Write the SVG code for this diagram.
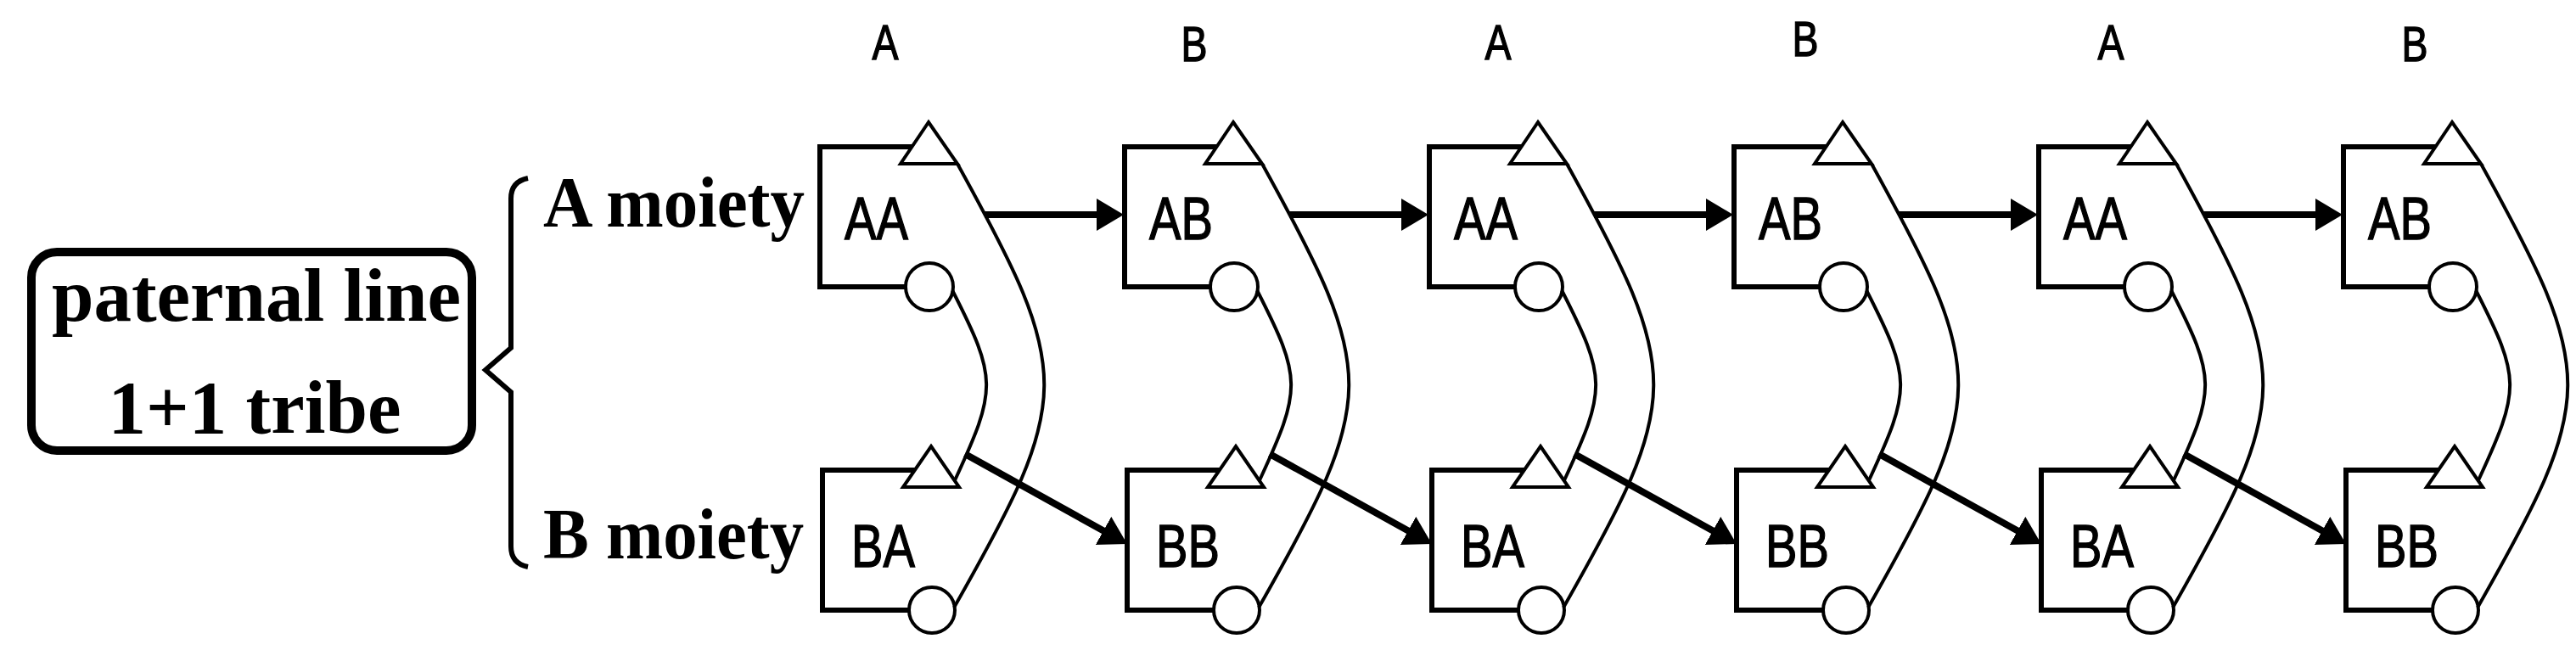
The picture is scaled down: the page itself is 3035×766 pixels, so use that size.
<svg xmlns="http://www.w3.org/2000/svg" width="3035" height="766" viewBox="0 0 3035 766">
<style>
.bg{fill:#fff}
.box{fill:none;stroke:#000;stroke-width:6}
.sym{fill:#fff;stroke:#000;stroke-width:4}
.arc{fill:none;stroke:#000;stroke-width:4}
.arr{fill:none;stroke:#000;stroke-width:8;marker-end:url(#ah)}
.nt{font-family:"Liberation Sans",Arial,sans-serif;font-size:70px;fill:#000;stroke:#000;stroke-width:1.4}
.ct{font-family:"Liberation Sans",Arial,sans-serif;font-size:58px;fill:#000;stroke:#000;stroke-width:1.4;text-anchor:middle}
.tt{font-family:"Liberation Serif","Times New Roman",serif;font-weight:bold;fill:#000}
.brace{fill:none;stroke:#000;stroke-width:6;stroke-linejoin:miter}
.pbox{fill:#fff;stroke:#000;stroke-width:10}
</style>
<defs>
<marker id="ah" markerUnits="userSpaceOnUse" markerWidth="34" markerHeight="40" refX="12" refY="19" orient="auto">
<path d="M0,0 L32,19 L0,38 z" fill="#000"/>
</marker>
</defs>
<rect class="bg" x="0" y="0" width="3035" height="766"/>

<g id="paternal">
<rect class="pbox" x="37" y="297" width="519" height="234" rx="30"/>
<text class="tt" x="302" y="378" font-size="89" text-anchor="middle">paternal line</text>
<text class="tt" x="300" y="510" font-size="89" text-anchor="middle">1+1 tribe</text>
</g>
<path class="brace" d="M622,210 Q602,214 602,234 V410 L572,436 L602,462 V644 Q602,664 622,668"/>
<g id="moiety-labels">
<text class="tt" x="640" y="267" font-size="84" textLength="308" lengthAdjust="spacingAndGlyphs">A moiety</text>
<text class="tt" x="640" y="658" font-size="84" textLength="307" lengthAdjust="spacingAndGlyphs">B moiety</text>
</g>

<g id="column-labels">
<text class="ct" x="1043" y="70" textLength="31" lengthAdjust="spacingAndGlyphs">A</text>
<text class="ct" x="1407" y="72" textLength="31" lengthAdjust="spacingAndGlyphs">B</text>
<text class="ct" x="1765" y="70" textLength="31" lengthAdjust="spacingAndGlyphs">A</text>
<text class="ct" x="2127" y="66" textLength="31" lengthAdjust="spacingAndGlyphs">B</text>
<text class="ct" x="2487" y="70" textLength="31" lengthAdjust="spacingAndGlyphs">A</text>
<text class="ct" x="2845" y="72" textLength="31" lengthAdjust="spacingAndGlyphs">B</text>
</g>

<g id="node-AA-1" transform="translate(0,0)">
<path class="box" d="M1094,173 H966 V338 H1095"/>
<polygon class="sym" points="1094,144 1128,193 1061,193"/>
<circle class="sym" cx="1095" cy="338" r="28"/>
<text class="nt" x="995" y="282" textLength="75" lengthAdjust="spacingAndGlyphs">AA</text>
</g>
<g id="node-BA-1" transform="translate(0,0)">
<path class="box" d="M1097,554 H969 V719 H1098"/>
<polygon class="sym" points="1097,526 1130,574 1064,574"/>
<circle class="sym" cx="1098" cy="719" r="27"/>
<text class="nt" x="1003" y="668" textLength="75" lengthAdjust="spacingAndGlyphs">BA</text>
</g>

<g id="node-AB-2" transform="translate(359,0)">
<path class="box" d="M1094,173 H966 V338 H1095"/>
<polygon class="sym" points="1094,144 1128,193 1061,193"/>
<circle class="sym" cx="1095" cy="338" r="28"/>
<text class="nt" x="995" y="282" textLength="75" lengthAdjust="spacingAndGlyphs">AB</text>
</g>
<g id="node-BB-2" transform="translate(359,0)">
<path class="box" d="M1097,554 H969 V719 H1098"/>
<polygon class="sym" points="1097,526 1130,574 1064,574"/>
<circle class="sym" cx="1098" cy="719" r="27"/>
<text class="nt" x="1003" y="668" textLength="75" lengthAdjust="spacingAndGlyphs">BB</text>
</g>

<g id="node-AA-3" transform="translate(718,0)">
<path class="box" d="M1094,173 H966 V338 H1095"/>
<polygon class="sym" points="1094,144 1128,193 1061,193"/>
<circle class="sym" cx="1095" cy="338" r="28"/>
<text class="nt" x="995" y="282" textLength="75" lengthAdjust="spacingAndGlyphs">AA</text>
</g>
<g id="node-BA-3" transform="translate(718,0)">
<path class="box" d="M1097,554 H969 V719 H1098"/>
<polygon class="sym" points="1097,526 1130,574 1064,574"/>
<circle class="sym" cx="1098" cy="719" r="27"/>
<text class="nt" x="1003" y="668" textLength="75" lengthAdjust="spacingAndGlyphs">BA</text>
</g>

<g id="node-AB-4" transform="translate(1077,0)">
<path class="box" d="M1094,173 H966 V338 H1095"/>
<polygon class="sym" points="1094,144 1128,193 1061,193"/>
<circle class="sym" cx="1095" cy="338" r="28"/>
<text class="nt" x="995" y="282" textLength="75" lengthAdjust="spacingAndGlyphs">AB</text>
</g>
<g id="node-BB-4" transform="translate(1077,0)">
<path class="box" d="M1097,554 H969 V719 H1098"/>
<polygon class="sym" points="1097,526 1130,574 1064,574"/>
<circle class="sym" cx="1098" cy="719" r="27"/>
<text class="nt" x="1003" y="668" textLength="75" lengthAdjust="spacingAndGlyphs">BB</text>
</g>

<g id="node-AA-5" transform="translate(1436,0)">
<path class="box" d="M1094,173 H966 V338 H1095"/>
<polygon class="sym" points="1094,144 1128,193 1061,193"/>
<circle class="sym" cx="1095" cy="338" r="28"/>
<text class="nt" x="995" y="282" textLength="75" lengthAdjust="spacingAndGlyphs">AA</text>
</g>
<g id="node-BA-5" transform="translate(1436,0)">
<path class="box" d="M1097,554 H969 V719 H1098"/>
<polygon class="sym" points="1097,526 1130,574 1064,574"/>
<circle class="sym" cx="1098" cy="719" r="27"/>
<text class="nt" x="1003" y="668" textLength="75" lengthAdjust="spacingAndGlyphs">BA</text>
</g>

<g id="node-AB-6" transform="translate(1795,0)">
<path class="box" d="M1094,173 H966 V338 H1095"/>
<polygon class="sym" points="1094,144 1128,193 1061,193"/>
<circle class="sym" cx="1095" cy="338" r="28"/>
<text class="nt" x="995" y="282" textLength="75" lengthAdjust="spacingAndGlyphs">AB</text>
</g>
<g id="node-BB-6" transform="translate(1795,0)">
<path class="box" d="M1097,554 H969 V719 H1098"/>
<polygon class="sym" points="1097,526 1130,574 1064,574"/>
<circle class="sym" cx="1098" cy="719" r="27"/>
<text class="nt" x="1003" y="668" textLength="75" lengthAdjust="spacingAndGlyphs">BB</text>
</g>

<g id="connectors">
<g transform="translate(0,0)">
<path class="arc" d="M1128,193 C1265,441 1265,468 1124,716"/>
<path class="arc" d="M1122,342 C1175,446 1175,458 1125,566"/>
<path class="arr" d="M1160,253 H1304"/>
<path class="arr" d="M1137,535 L1310.5,631.3"/>
</g>
<g transform="translate(359,0)">
<path class="arc" d="M1128,193 C1265,441 1265,468 1124,716"/>
<path class="arc" d="M1122,342 C1175,446 1175,458 1125,566"/>
<path class="arr" d="M1160,253 H1304"/>
<path class="arr" d="M1137,535 L1310.5,631.3"/>
</g>
<g transform="translate(718,0)">
<path class="arc" d="M1128,193 C1265,441 1265,468 1124,716"/>
<path class="arc" d="M1122,342 C1175,446 1175,458 1125,566"/>
<path class="arr" d="M1160,253 H1304"/>
<path class="arr" d="M1137,535 L1310.5,631.3"/>
</g>
<g transform="translate(1077,0)">
<path class="arc" d="M1128,193 C1265,441 1265,468 1124,716"/>
<path class="arc" d="M1122,342 C1175,446 1175,458 1125,566"/>
<path class="arr" d="M1160,253 H1304"/>
<path class="arr" d="M1137,535 L1310.5,631.3"/>
</g>
<g transform="translate(1436,0)">
<path class="arc" d="M1128,193 C1265,441 1265,468 1124,716"/>
<path class="arc" d="M1122,342 C1175,446 1175,458 1125,566"/>
<path class="arr" d="M1160,253 H1304"/>
<path class="arr" d="M1137,535 L1310.5,631.3"/>
</g>
<g transform="translate(1795,0)">
<path class="arc" d="M1128,193 C1265,441 1265,468 1124,716"/>
<path class="arc" d="M1122,342 C1175,446 1175,458 1125,566"/>
</g>
</g>
</svg>
